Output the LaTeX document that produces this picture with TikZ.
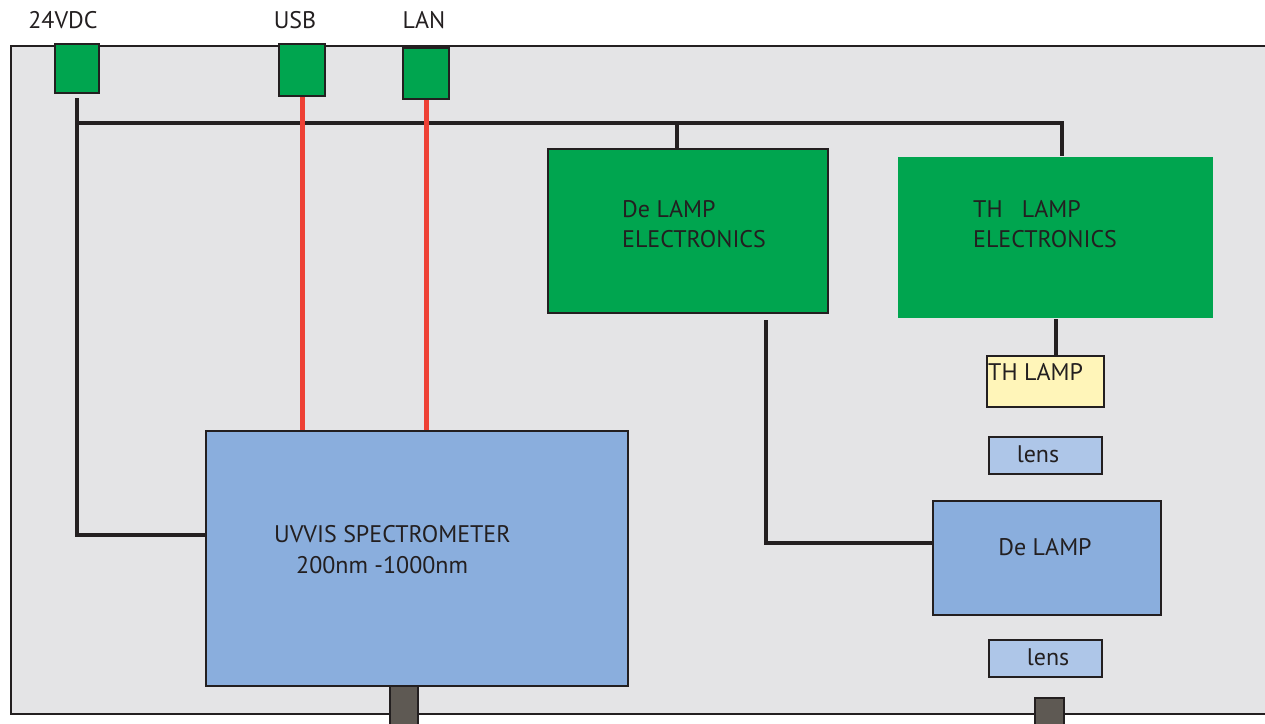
\documentclass[tikz,border=0pt]{standalone}
\usepackage{fontspec}
\setmainfont{PT Sans}
\usepackage{tikz}

\definecolor{panel}{HTML}{E4E4E6}
\definecolor{pcb}{HTML}{00A54F}
\definecolor{optic}{HTML}{8AAEDD}
\definecolor{glass}{HTML}{AEC6E8}
\definecolor{bulb}{HTML}{FFF5B9}
\definecolor{signal}{HTML}{EE4035}
\definecolor{ink}{HTML}{231F20}
\definecolor{port}{HTML}{5E5953}

\tikzset{
  box/.style={draw=ink, line width=2.2pt, inner sep=0pt, anchor=north west},
  txt/.style={text=ink, font=\fontsize{24}{30}\selectfont, inner sep=0pt},
  wire/.style={draw=ink, line width=4pt},
  redwire/.style={draw=signal, line width=5pt}
}

\begin{document}
\begin{tikzpicture} [x=1pt,y=-1pt]

\useasboundingbox (0,0) rectangle (1265,723);

\draw [fill=panel, draw=ink, line width=2.2pt] (11,46) rectangle (1280,714);

\node [box, fill=port, minimum width=28, minimum height=50] (specport) at (389,685) {};
\node [box, fill=port, minimum width=29, minimum height=40] (lampport) at (1034,697) {};

\node [box, fill=pcb, minimum width=44, minimum height=49] (dc) at (54,43) {};
\node [box, fill=pcb, minimum width=46, minimum height=52] (usb) at (278,43) {};
\node [box, fill=pcb, minimum width=46, minimum height=51] (lan) at (402,47) {};
\node [txt] (dclabel) at (63,20) {24VDC};
\node [txt] (usblabel) at (295,20) {USB};
\node [txt] (lanlabel) at (424,20) {LAN};

\node [box, fill=optic, minimum width=422, minimum height=255] (spec) at (205,430) {};
\node [txt, anchor=west] (spectxt) at (274,534) {UVVIS SPECTROMETER};
\node [txt, anchor=west] (rangetxt) at (296,565) {200nm -1000nm};

\node [box, fill=pcb, minimum width=280, minimum height=164] (delec) at (547,148) {};
\node [txt, anchor=west, align=left] (delectxt) at (622,224) {De LAMP\\ELECTRONICS};

\node [box, draw=none, fill=pcb, minimum width=315, minimum height=161] (thelec) at (897,156) {};
\node [txt, anchor=west, align=left] (thelectxt) at (973,224) {TH\ \ \ LAMP\\ELECTRONICS};

\node [box, fill=bulb, minimum width=117, minimum height=51] (thlamp) at (986,355) {};
\node [txt, anchor=west] (thlamptxt) at (988,372) {TH LAMP};

\node [box, fill=glass, minimum width=113, minimum height=37] (lensa) at (988,436) {};
\node [txt] (lensatxt) at (1038,454) {lens};

\node [box, fill=optic, minimum width=228, minimum height=114] (delamp) at (932,500) {};
\node [txt] (delamptxt) at (1045,547) {De LAMP};

\node [box, fill=glass, minimum width=113, minimum height=37] (lensb) at (988,639) {};
\node [txt] (lensbtxt) at (1048,657) {lens};

% power bus
\coordinate (specin) at (206,535);
\coordinate (busl) at (76,123);
\coordinate (busde) at (677,123);
\coordinate (busth) at (1062,123);
\draw [wire, shorten <=4pt] (dc.south) |- (specin);
\draw [wire] (busl) -- (busth) -- (busth |- thelec.north);
\draw [wire] (busde) -- (busde |- delec.north);

% data lines
\draw [redwire] (usb.south) -- (usb.south |- spec.north);
\draw [redwire] (lan.south) -- (lan.south |- spec.north);

% lamp supply
\coordinate (deout) at (766,320);
\coordinate (dein) at (932,543);
\draw [wire] (deout) |- (dein);
\draw [wire] (thelec.south) -- (thelec.south |- thlamp.north);

\end{tikzpicture}
\end{document}
